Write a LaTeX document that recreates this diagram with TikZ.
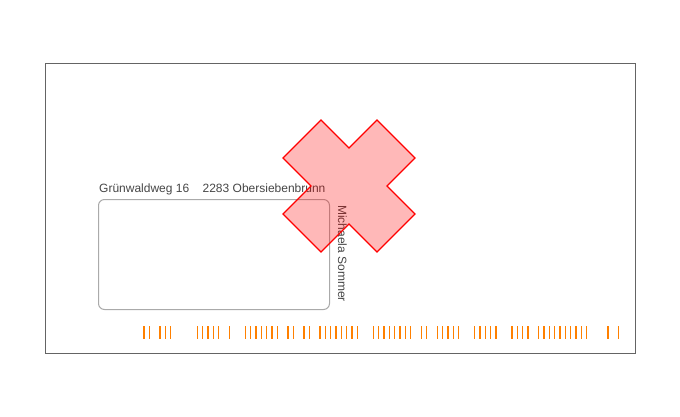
\documentclass[tikz,border=0pt]{standalone}
\usepackage{fontspec}
\setmainfont{Liberation Sans}
\usetikzlibrary{positioning}

\definecolor{frame}{RGB}{100,100,100}
\definecolor{window}{RGB}{170,170,170}
\definecolor{ink}{RGB}{70,70,70}
\definecolor{barcol}{RGB}{255,128,0}

\tikzset{
  addr/.style={inner sep=0pt, text=ink, font=\fontsize{12}{14}\selectfont},
  codebar/.style={draw=barcol, line width=1.2pt},
  crossmark/.style={draw=red, line width=1.2pt, fill=red, fill opacity=0.28, line join=miter},
}

\begin{document}
\begin{tikzpicture}[x=1pt,y=-1pt]
  \useasboundingbox (0,0) rectangle (680,416);
  \draw[frame, line width=1pt] (45,63) rectangle (635,353);
  \node[addr, anchor=base west] (s) at (99,192) {Grünwaldweg 16};
  \node[addr, base right=13pt of s] (c) {2283 Obersiebenbrunn};
  \node[draw=window, line width=1pt, rounded corners=6pt, minimum width=231pt,
        minimum height=110pt, anchor=north west] (w) at (98,199) {};
  \node[addr, rotate=-90, anchor=base west] (n) at (338,205) {Michaela Sommer};
  \foreach \i in {0,1,3,4,5,10,11,12,13,14,16,19,20,21,22,23,24,25,27,28,30,31,
      33,34,35,36,37,38,39,40,43,44,45,46,47,48,49,50,52,53,55,56,57,58,59,
      62,63,64,65,66,69,70,71,72,74,75,76,77,78,79,80,81,82,83,87,89}
    \draw[codebar] ({144+5.333*\i},326) -- ++(0,13);
  \draw[crossmark] (321,120) -- (349,148) -- (377,120) -- (415,158) -- (387,186)
    -- (415,214) -- (377,252) -- (349,224) -- (321,252) -- (283,214)
    -- (311,186) -- (283,158) -- cycle;
\end{tikzpicture}
\end{document}
